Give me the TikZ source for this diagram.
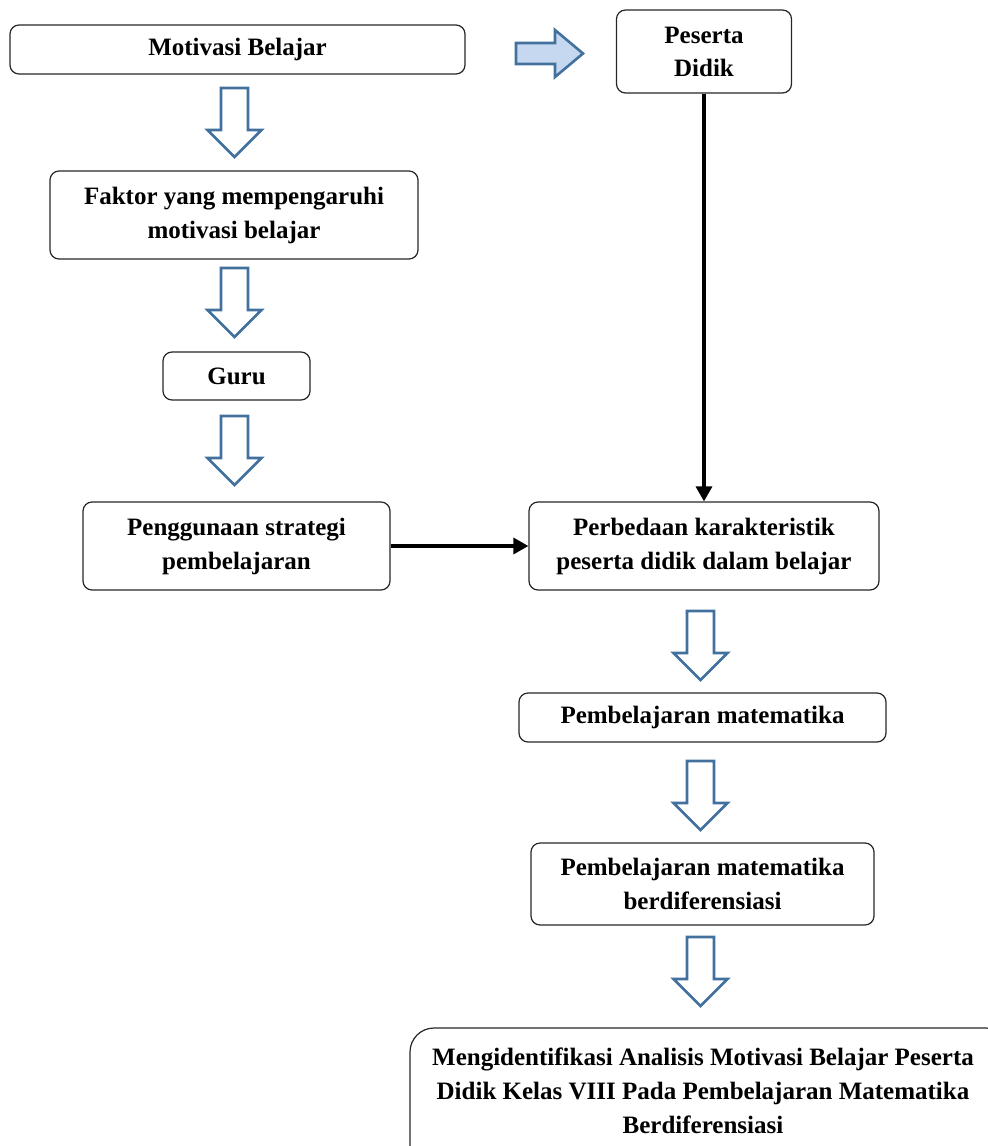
\documentclass[tikz,border=0pt]{standalone}
\usepackage{fontspec}
\setmainfont{Liberation Serif}
\usetikzlibrary{arrows.meta}
\definecolor{arrowblue}{HTML}{41719C}
\definecolor{arrowfill}{HTML}{C5D8F0}
\tikzset{
  box/.style={draw=black!85, line width=1.2pt, rounded corners=9pt, align=center,
    font=\fontsize{25}{34}\selectfont\bfseries, inner sep=0pt},
  hollow/.style={draw=arrowblue, line width=2.6pt, fill=white, line join=miter},
  conn/.style={draw=black, line width=3.2pt, -{Triangle[length=15pt,width=16pt]}}
}
\newcommand{\downarrowblk}[2]{% #1 = center x, #2 = top y
  \path[hollow] ({#1-13.5},{#2}) -- ({#1+13.5},{#2}) -- ({#1+13.5},{#2+42}) -- ({#1+27},{#2+42})
    -- ({#1},{#2+69}) -- ({#1-27},{#2+42}) -- ({#1-13.5},{#2+42}) -- cycle;}
\begin{document}
\begin{tikzpicture}[x=1pt,y=-1pt]
\useasboundingbox (0,0) rectangle (988,1146);
\begin{scope}
\clip (0,0) rectangle (988,1146);
% boxes
\node[box, minimum width=455pt, minimum height=49pt] (mot) at (237.5,49.5) {Motivasi Belajar};
\node[box, minimum width=175pt, minimum height=83pt] (pd) at (704,51.5) {\raisebox{-3pt}{Peserta}\\\raisebox{-2pt}{Didik}};
\node[box, minimum width=368pt, minimum height=88pt] (fak) at (234,215) {Faktor yang mempengaruhi\\motivasi belajar};
\node[box, minimum width=147pt, minimum height=48pt] (guru) at (236.5,376) {Guru};
\node[box, minimum width=307pt, minimum height=88pt] (pen) at (236.5,546) {Penggunaan strategi\\pembelajaran};
\node[box, minimum width=350pt, minimum height=88pt] (per) at (704,546) {Perbedaan karakteristik\\peserta didik dalam belajar};
\node[box, minimum width=367pt, minimum height=49pt] (pm) at (702.5,717.5) {Pembelajaran matematika};
\node[box, minimum width=343pt, minimum height=82pt] (pmb) at (702.5,884) {Pembelajaran matematika\\berdiferensiasi};
\draw[draw=black!85, line width=1.2pt, rounded corners=24pt] (410,1028) rectangle (1010,1175);
\node[align=center, font=\fontsize{25}{34}\selectfont\bfseries] (men) at (703,1091)
  {Mengidentifikasi Analisis Motivasi Belajar Peserta\\Didik Kelas VIII Pada Pembelajaran Matematika\\Berdiferensiasi};
% block arrows
\downarrowblk{234.5}{88}
\downarrowblk{234.5}{268}
\downarrowblk{234.5}{416}
\downarrowblk{700.5}{611}
\downarrowblk{700.5}{761}
\downarrowblk{700.5}{937}
\path[draw=arrowblue, line width=2.6pt, fill=arrowfill, line join=miter]
  (516,43) -- (555,43) -- (555,30) -- (583,53.5) -- (555,77) -- (555,64) -- (516,64) -- cycle;
% connectors
\draw[conn] (pd.south) -- (per.north);
\draw[conn] (pen.east) -- (per.west);
\end{scope}
\end{tikzpicture}
\end{document}
